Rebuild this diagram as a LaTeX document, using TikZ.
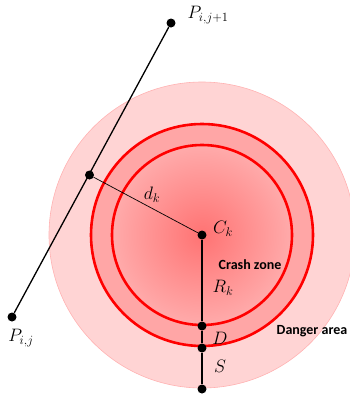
\documentclass[tikz,border=0pt]{standalone}
\usepackage{fix-cm}
\usepackage{fontspec}
\newfontfamily\labelfont{Carlito}
\usetikzlibrary{positioning}
\tikzset{
  dot/.style={circle, fill=black, inner sep=0pt, minimum size=9pt},
  mathlbl/.style={font=\fontsize{18}{21}\selectfont},
  zonelbl/.style={font=\labelfont\bfseries\fontsize{14}{16}\selectfont},
  zoneline/.style={draw=red, line width=2.6pt},
}
\begin{document}
\begin{tikzpicture}[x=1pt, y=-1pt]
  \useasboundingbox (0,0) rectangle (349,397);
  % zones
  \coordinate (ck) at (202,235);
  \fill[red!17, draw=red!30, line width=0.6pt] (ck) circle (153);
  \fill[red!35] (ck) circle (111);
  \shade[inner color=red!55, outer color=red!33] (ck) circle (90);
  \draw[zoneline] (ck) circle (111);
  \draw[zoneline] (ck) circle (90);
  % points
  \node[dot] (pij) at (12,317) {};
  \node[dot] (pij1) at (171,23) {};
  \node[dot] (foot) at (89.5,175) {};
  \node[dot] (c) at (ck) {};
  \node[dot] (d1) at (202,326) {};
  \node[dot] (d2) at (202,348) {};
  \node[dot] (s) at (202,389) {};
  % segments
  \draw[line width=1.3pt] (pij) -- (pij1);
  \draw[line width=0.7pt] (foot) -- (c);
  \draw[line width=1.3pt] (c) -- (d1) -- (d2) -- (s);
  % labels
  \node[mathlbl, anchor=west] (lpij1) at (184,15) {$P_{i,j+1}$};
  \node[mathlbl] (lpij) at (21,338) {$P_{i,j}$};
  \node[mathlbl] (ldk) at (152,195) {$d_k$};
  \node[mathlbl] (lck) at (223,229) {$C_k$};
  \node[mathlbl] (lrk) at (223,288) {$R_k$};
  \node[mathlbl] (ld) at (220,338) {$D$};
  \node[mathlbl] (ls) at (220,366) {$S$};
  \node[zonelbl] (lcrash) at (250,265) {Crash zone};
  \node[zonelbl] (ldanger) at (312,331) {Danger area};
\end{tikzpicture}
\end{document}
